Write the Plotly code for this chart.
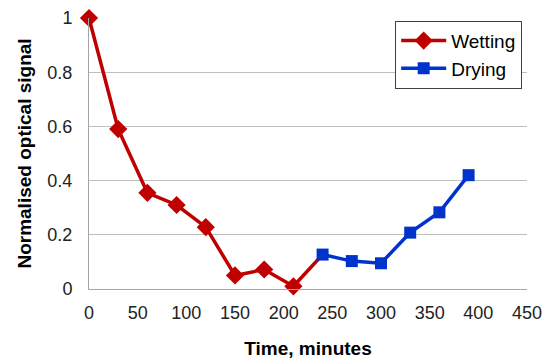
import plotly.graph_objects as go

wet_t = [0, 30, 60, 90, 120, 150, 180, 210]
wet_v = [1.0, 0.59, 0.355, 0.31, 0.228, 0.05, 0.072, 0.01]
dry_t = [240, 270, 300, 330, 360, 390]
dry_v = [0.127, 0.103, 0.095, 0.208, 0.283, 0.42]

red = "#C00000"
blue = "#0033CC"

fig = go.Figure()
# connecting segment from last wetting point to first drying point
fig.add_trace(go.Scatter(x=[wet_t[-1], dry_t[0]], y=[wet_v[-1], dry_v[0]], mode="lines",
                         line=dict(color=red, width=3.5), showlegend=False, hoverinfo="skip",
                         cliponaxis=False))
fig.add_trace(go.Scatter(x=wet_t, y=wet_v, mode="lines+markers", name="Wetting",
                         line=dict(color=red, width=3.5), cliponaxis=False,
                         marker=dict(symbol="diamond", size=14, color=red, opacity=1,
                                     line=dict(width=0))))
fig.add_trace(go.Scatter(x=dry_t, y=dry_v, mode="lines+markers", name="Drying",
                         line=dict(color=blue, width=3.5), cliponaxis=False,
                         marker=dict(symbol="square", size=12, color=blue, opacity=1,
                                     line=dict(width=0))))

fig.update_layout(
    width=550, height=362,
    margin=dict(l=89, r=23, t=18, b=73, autoexpand=False),
    paper_bgcolor="white", plot_bgcolor="white",
    font=dict(family="Liberation Sans, Arial, sans-serif", size=18, color="#222"),
    showlegend=True,
    legend=dict(x=0.989, y=0.99, xanchor="right", yanchor="top",
                bordercolor="#404040", borderwidth=1, bgcolor="white",
                font=dict(size=19, color="#000"), itemwidth=45, tracegroupgap=8),
    xaxis=dict(range=[0, 450], dtick=50, tick0=0, showgrid=False, automargin=False,
               showline=True, linecolor="#A6A6A6", linewidth=1,
               ticks="", ticklen=0, zeroline=False, ticklabelstandoff=7,
               title=dict(text="<b>Time, minutes</b>", font=dict(size=19, color="#000"), standoff=20)),
    yaxis=dict(range=[0, 1], dtick=0.2, tick0=0, showgrid=True, gridcolor="#BFBFBF",
               gridwidth=1, showline=True, linecolor="#A6A6A6", linewidth=1, automargin=False,
               ticks="", zeroline=False, ticklabelstandoff=12,
               title=dict(text="<b>Normalised optical signal</b>", font=dict(size=19, color="#000"), standoff=10)),
)
fig.write_html("out.html", config={"displayModeBar": False},
               post_script="document.body.style.margin='0';document.body.style.overflow='hidden';")
